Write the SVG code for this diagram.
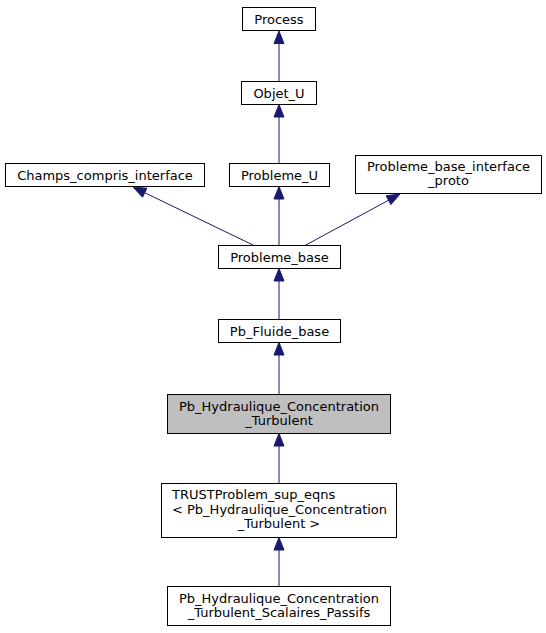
<svg xmlns="http://www.w3.org/2000/svg" width="546" height="633" viewBox="0 0 546 633">
<style>
.box{fill:#ffffff;stroke:#000000;stroke-width:1}
.cur{fill:#bfbfbf;stroke:#000000;stroke-width:1}
text{font-family:"DejaVu Sans","Liberation Sans",sans-serif;font-size:13px;fill:#000000}
.c{text-anchor:middle}
.edge line{stroke:#191970;stroke-width:1}
.edge polygon{fill:#191970;stroke:#191970;stroke-width:1}
</style>
<rect width="546" height="633" fill="#ffffff"/>
<g id="connectors" class="edge">
<line x1="279" y1="81.5" x2="279" y2="43.5"/><polygon points="279,31 274,43.5 284,43.5"/>
<line x1="279" y1="163.5" x2="279" y2="117"/><polygon points="279,104.5 274,117 284,117"/>
<line x1="279" y1="245.5" x2="279" y2="199"/><polygon points="279,186.5 274,199 284,199"/>
<line x1="254" y1="245.5" x2="144.7" y2="192.7"/><polygon points="133,187 146.9,188.2 142.5,197.2"/>
<line x1="305" y1="245.5" x2="388.6" y2="200.2"/><polygon points="400,194 390.9,204.6 386.2,195.8"/>
<line x1="279" y1="319.5" x2="279" y2="281"/><polygon points="279,268.5 274,281 284,281"/>
<line x1="279" y1="394.5" x2="279" y2="355"/><polygon points="279,342.5 274,355 284,355"/>
<line x1="279" y1="483.5" x2="279" y2="446"/><polygon points="279,433.5 274,446 284,446"/>
<line x1="279" y1="586.5" x2="279" y2="550"/><polygon points="279,537.5 274,550 284,550"/>
</g>
<g id="Process"><rect class="box" x="242.5" y="7.5" width="73" height="23"/><text class="c" x="279" y="23.5">Process</text></g>
<g id="Objet_U"><rect class="box" x="241.5" y="81.5" width="75" height="23"/><text class="c" x="279" y="97.5">Objet_U</text></g>
<g id="Champs_compris_interface"><rect class="box" x="5.5" y="163.5" width="199" height="23"/><text class="c" x="105" y="179.5">Champs_compris_interface</text></g>
<g id="Probleme_U"><rect class="box" x="229.5" y="163.5" width="100" height="23"/><text class="c" x="279.5" y="179.5">Probleme_U</text></g>
<g id="Probleme_base_interface_proto"><rect class="box" x="355.5" y="155.5" width="186" height="38"/><text class="c" x="448.5" y="171">Probleme_base_interface</text><text class="c" x="448.5" y="185">_proto</text></g>
<g id="Probleme_base"><rect class="box" x="218.5" y="245.5" width="122" height="23"/><text class="c" x="279.5" y="261.5">Probleme_base</text></g>
<g id="Pb_Fluide_base"><rect class="box" x="218.5" y="319.5" width="122" height="23"/><text class="c" x="279.5" y="335.5">Pb_Fluide_base</text></g>
<g id="Pb_Hydraulique_Concentration_Turbulent"><rect class="cur" x="167.5" y="394.5" width="223" height="39"/><text class="c" x="279" y="410.5">Pb_Hydraulique_Concentration</text><text class="c" x="279" y="424.5">_Turbulent</text></g>
<g id="TRUSTProblem_sup_eqns"><rect class="box" x="161.5" y="483.5" width="235" height="54"/><text x="172" y="499">TRUSTProblem_sup_eqns</text><text x="172" y="513.5">&lt; Pb_Hydraulique_Concentration</text><text class="c" x="279" y="528">_Turbulent &gt;</text></g>
<g id="Pb_Hydraulique_Concentration_Turbulent_Scalaires_Passifs"><rect class="box" x="167.5" y="586.5" width="223" height="39"/><text class="c" x="279" y="602.5">Pb_Hydraulique_Concentration</text><text class="c" x="279" y="616.5">_Turbulent_Scalaires_Passifs</text></g>
</svg>
